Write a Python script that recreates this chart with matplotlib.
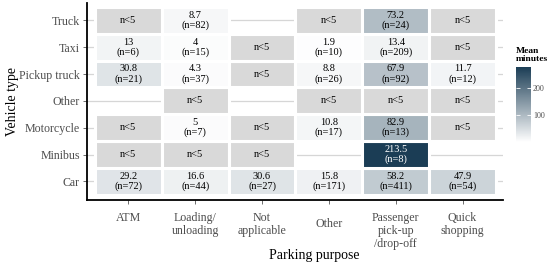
import numpy as np
import matplotlib
matplotlib.use('Agg')
import matplotlib.pyplot as plt
import matplotlib.transforms as mtransforms
from matplotlib.colors import LinearSegmentedColormap, Normalize
from matplotlib.patches import Rectangle

plt.rcParams['font.family'] = ['Liberation Serif', 'DejaVu Serif']

purposes = ['ATM', 'Loading/\nunloading', 'Not\napplicable', 'Other',
            'Passenger\npick-up\n/drop-off', 'Quick\nshopping']
vehicles = ['Car', 'Minibus', 'Motorcycle', 'Other', 'Pickup truck', 'Taxi', 'Truck']

# mean minutes per cell (nan = n<5 or no data)
nan = np.nan
means = [
    [29.2, 16.6, 30.6, 15.8, 58.2, 47.9],   # Car
    [nan, nan, nan, nan, 213.5, nan],       # Minibus
    [nan, 5, nan, 10.8, 82.9, nan],         # Motorcycle
    [nan, nan, nan, nan, nan, nan],         # Other
    [30.8, 4.3, nan, 8.8, 67.9, 11.7],      # Pickup truck
    [13, 4, nan, 1.9, 13.4, nan],           # Taxi
    [nan, 8.7, nan, nan, 73.2, nan],        # Truck
]
# sample sizes: 0 = n<5, None = no observations
counts = [
    [72, 44, 27, 171, 411, 54],
    [0, 0, 0, None, 8, None],
    [0, 7, 0, 17, 13, 0],
    [None, 0, None, 0, 0, 0],
    [21, 37, 0, 26, 92, 12],
    [6, 15, 0, 10, 209, 0],
    [0, 82, None, 0, 24, 0],
]

cmap = LinearSegmentedColormap.from_list('mm', ['#ffffff', '#1b3d55'])
norm = Normalize(vmin=0, vmax=213.5)

fig = plt.figure(figsize=(5.5, 2.68), dpi=100)
ax = fig.add_axes([0.158, 0.254, 0.756, 0.735])

for i in range(len(vehicles)):
    ax.axhline(i, color='#d6d6d6', lw=0.9, zorder=0)

for i, row in enumerate(counts):
    for j, n in enumerate(row):
        if n is None:
            continue
        if n == 0:
            fc = '#d9d9d9'
            txt = 'n<5'
            tc = 'black'
        else:
            m = means[i][j]
            fc = cmap(norm(m))
            txt = '%g\n(n=%d)' % (m, n)
            tc = 'white' if m > 150 else 'black'
        ax.add_patch(Rectangle((j - 0.5, i - 0.5), 1, 1, facecolor=fc,
                               edgecolor='white', lw=2.2, zorder=1))
        ax.text(j, i, txt, ha='center', va='center', fontsize=7.5,
                color=tc, linespacing=1.1, zorder=2)

ax.set_xlim(-0.62, len(purposes) - 0.4)
ax.set_ylim(-0.69, len(vehicles) - 0.35)
ax.set_xticks(range(len(purposes)))
ax.set_xticklabels(purposes, fontsize=8.6, color='#4d4d4d', linespacing=1.1,
                   va='top')
ax.set_yticks(range(len(vehicles)))
ax.set_yticklabels(vehicles, fontsize=8.6, color='#4d4d4d')
ax.tick_params(axis='both', length=3, width=0.6, color='#555555', pad=2)
ax.tick_params(axis='x', pad=6)
# single-line "Other" sits lower in the reference
lbl = ax.get_xticklabels()[3]
lbl.set_transform(lbl.get_transform() +
                  mtransforms.ScaledTranslation(0, -6 / 100, fig.dpi_scale_trans))
for s in ['top', 'right']:
    ax.spines[s].set_visible(False)
for s in ['left', 'bottom']:
    ax.spines[s].set_linewidth(1.3)
ax.set_xlabel('Parking purpose', fontsize=10)
ax.set_ylabel('Vehicle type', fontsize=10)
ax.xaxis.set_label_coords((314 - 87) / 416, (200 - 249) / 197)
ax.yaxis.set_label_coords((19 - 87) / 416, 0.5)

cax = fig.add_axes([0.938, 0.47, 0.027, 0.28])
cb = fig.colorbar(plt.cm.ScalarMappable(norm=Normalize(0, 280), cmap=cmap), cax=cax)
cb.outline.set_visible(False)
cb.set_ticks([100, 200])
cb.ax.tick_params(labelsize=5.8, length=3, color='white', width=0.6, pad=1.5,
                  labelcolor='#4d4d4d', direction='in', left=True, right=True)
fig.text(0.938, 0.765, 'Mean\nminutes', fontsize=6.8, fontweight='bold',
         ha='left', va='bottom', linespacing=1.05)

fig.savefig('out.png', dpi=100)
